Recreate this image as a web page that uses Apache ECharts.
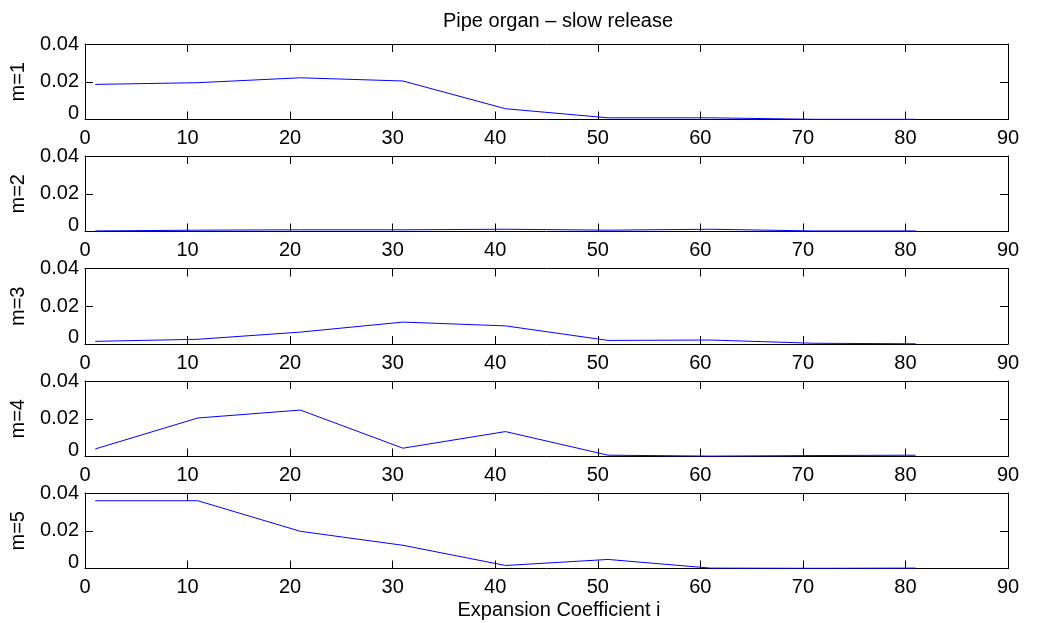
<!DOCTYPE html>
<html>
<head>
<meta charset="utf-8">
<script src="https://cdn.jsdelivr.net/npm/echarts@6/dist/echarts.min.js"></script>
<style>
html,body{margin:0;padding:0;background:#fff;}
#chart{width:1049px;height:623px;}
</style>
</head>
<body>
<div id="chart"></div>
<script>
// Data
const titleText = 'Pipe organ \u2013 slow release';
const xLabelText = 'Expansion Coefficient i';
const panelNames = ['m=1', 'm=2', 'm=3', 'm=4', 'm=5'];
const coeffIndex = [1, 11, 21, 31, 41, 51, 61, 71, 81];
const m1 = [0.0186, 0.0195, 0.0221, 0.0204, 0.0057, 0.0009, 0.0009, 0.0001, 0.0001];
const m2 = [0.0003, 0.0007, 0.0009, 0.0009, 0.0012, 0.0007, 0.0012, 0.0003, 0.0003];
const m3 = [0.0014, 0.0025, 0.0063, 0.0116, 0.0096, 0.0019, 0.0021, 0.0004, 0.0001];
const m4 = [0.0040, 0.0204, 0.0246, 0.0044, 0.0132, 0.0007, 0.0002, 0.0005, 0.0007];
const m5 = [0.0359, 0.0359, 0.0197, 0.0123, 0.0016, 0.0048, 0.0002, 0.0001, 0.0002];
const xTicks = [0, 10, 20, 30, 40, 50, 60, 70, 80, 90];
const yTicks = [0, 0.02, 0.04];

const seriesValues = [m1, m2, m3, m4, m5];
const FONT = "'Liberation Sans', Arial, Helvetica, sans-serif";
const tops = [44, 156, 268.5, 381, 493];
const H = 75.5;
const L = 84, W = 924;

const grids = [], xAxes = [], yAxes = [], series = [];
const axisLine = {show: true, onZero: false, lineStyle: {color: '#000', width: 1}};
const tick = {show: true, inside: true, length: 8, lineStyle: {color: '#000', width: 1}};

panelNames.forEach((name, i) => {
  grids.push({left: L, top: tops[i], width: W, height: H, containLabel: false});
  const xBase = {
    type: 'value', gridIndex: i, min: xTicks[0], max: xTicks[xTicks.length - 1],
    interval: xTicks[1] - xTicks[0], splitLine: {show: false},
    axisLine: axisLine, axisTick: tick
  };
  xAxes.push(Object.assign({}, xBase, {
    position: 'bottom',
    axisLabel: {show: true, color: '#000', fontSize: 20, fontFamily: FONT, margin: 9}
  }));
  xAxes.push(Object.assign({}, xBase, {position: 'top', axisLabel: {show: false}}));
  const yBase = {
    type: 'value', gridIndex: i, min: yTicks[0], max: yTicks[yTicks.length - 1],
    interval: yTicks[1] - yTicks[0], splitLine: {show: false},
    axisLine: axisLine, axisTick: tick
  };
  yAxes.push(Object.assign({}, yBase, {
    position: 'left',
    name: name, nameLocation: 'middle', nameGap: 57,
    nameTextStyle: {color: '#000', fontSize: 20, fontFamily: FONT},
    axisLabel: {
      show: true, color: '#000', fontSize: 20, fontFamily: FONT, margin: 6,
      verticalAlignMinLabel: 'bottom',
      formatter: v => (v === 0 ? '{z|0}' : v.toFixed(2)),
      rich: {z: {color: '#000', fontSize: 20, fontFamily: FONT, lineHeight: 13}}
    }
  }));
  yAxes.push(Object.assign({}, yBase, {position: 'right', axisLabel: {show: false}}));
  series.push({
    type: 'line', xAxisIndex: 2 * i, yAxisIndex: 2 * i,
    data: coeffIndex.map((x, k) => [x, seriesValues[i][k]]),
    showSymbol: false, symbol: 'none',
    lineStyle: {color: '#0000ff', width: 1},
    animation: false
  });
});

const chart = echarts.init(document.getElementById('chart'), null, {renderer: 'canvas'});
chart.setOption({
  backgroundColor: '#fff',
  animation: false,
  grid: grids,
  xAxis: xAxes,
  yAxis: yAxes,
  series: series,
  graphic: [
    {type: 'text', style: {text: titleText, x: 558, y: 21, textAlign: 'center', textVerticalAlign: 'middle', fontSize: 20, fontFamily: FONT, fill: '#000'}},
    {type: 'text', style: {text: xLabelText, x: 559, y: 610, textAlign: 'center', textVerticalAlign: 'middle', fontSize: 20, fontFamily: FONT, fill: '#000'}}
  ]
});
</script>
</body>
</html>
